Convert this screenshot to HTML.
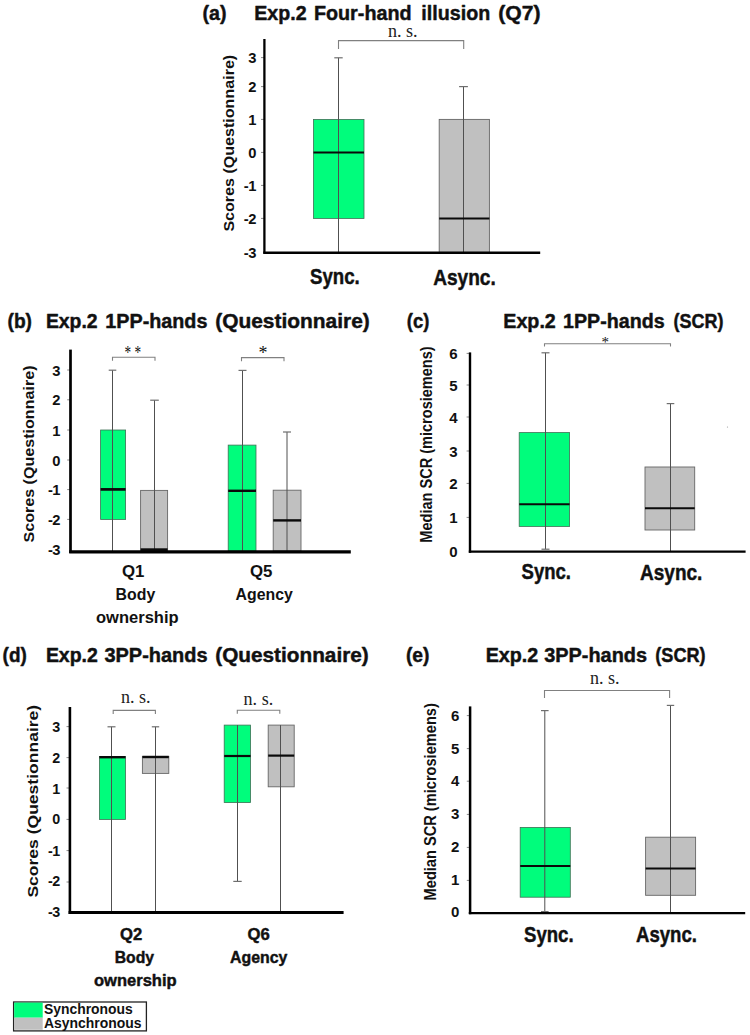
<!DOCTYPE html><html><head><meta charset="utf-8"><title>Figure</title>
<style>html,body{margin:0;padding:0;background:#fff}svg{display:block}</style></head><body>
<svg width="750" height="1035" viewBox="0 0 750 1035">
<rect width="750" height="1035" fill="#fff"/>
<text x="202.5" y="20.3" font-family='"Liberation Sans", sans-serif' font-size="20.5" font-weight="bold" fill="#111" text-anchor="start" textLength="24" lengthAdjust="spacingAndGlyphs" stroke="#111" stroke-width="0.45" stroke-linejoin="round">(a)</text>
<text x="254.3" y="20.3" font-family='"Liberation Sans", sans-serif' font-size="20.5" font-weight="bold" fill="#111" text-anchor="start" textLength="52.3" lengthAdjust="spacingAndGlyphs" stroke="#111" stroke-width="0.45" stroke-linejoin="round">Exp.2</text>
<text x="313.9" y="20.3" font-family='"Liberation Sans", sans-serif' font-size="20.5" font-weight="bold" fill="#111" text-anchor="start" textLength="97.7" lengthAdjust="spacingAndGlyphs" stroke="#111" stroke-width="0.45" stroke-linejoin="round">Four-hand</text>
<text x="421.3" y="20.3" font-family='"Liberation Sans", sans-serif' font-size="20.5" font-weight="bold" fill="#111" text-anchor="start" textLength="68.9" lengthAdjust="spacingAndGlyphs" stroke="#111" stroke-width="0.45" stroke-linejoin="round">illusion</text>
<text x="498.3" y="20.3" font-family='"Liberation Sans", sans-serif' font-size="20.5" font-weight="bold" fill="#111" text-anchor="start" textLength="42.3" lengthAdjust="spacingAndGlyphs" stroke="#111" stroke-width="0.45" stroke-linejoin="round">(Q7)</text>
<text x="234.3" y="231.6" font-family='"Liberation Sans", sans-serif' font-size="15.25" font-weight="bold" fill="#111" text-anchor="start" textLength="176.8" lengthAdjust="spacingAndGlyphs" transform="rotate(-90 234.3 231.6)">Scores (Questionnaire)</text>
<text transform="translate(256.4 63.12) scale(1.03 1)" font-family='"Liberation Sans", sans-serif' font-size="14.3" font-weight="bold" fill="#111" text-anchor="end">3</text>
<text transform="translate(256.4 92.12) scale(1.03 1)" font-family='"Liberation Sans", sans-serif' font-size="14.3" font-weight="bold" fill="#111" text-anchor="end">2</text>
<text transform="translate(256.4 124.92) scale(1.03 1)" font-family='"Liberation Sans", sans-serif' font-size="14.3" font-weight="bold" fill="#111" text-anchor="end">1</text>
<text transform="translate(256.4 157.92) scale(1.03 1)" font-family='"Liberation Sans", sans-serif' font-size="14.3" font-weight="bold" fill="#111" text-anchor="end">0</text>
<text transform="translate(256.4 190.92) scale(1.03 1)" font-family='"Liberation Sans", sans-serif' font-size="14.3" font-weight="bold" fill="#111" text-anchor="end">-<tspan dx="-0.5">1</tspan></text>
<text transform="translate(256.4 223.92) scale(1.03 1)" font-family='"Liberation Sans", sans-serif' font-size="14.3" font-weight="bold" fill="#111" text-anchor="end">-<tspan dx="-0.5">2</tspan></text>
<text transform="translate(256.4 257.82) scale(1.03 1)" font-family='"Liberation Sans", sans-serif' font-size="14.3" font-weight="bold" fill="#111" text-anchor="end">-<tspan dx="-0.5">3</tspan></text>
<rect x="313.5" y="119.4" width="50.5" height="99.0" fill="#00FD7C" stroke="#3f6f55" stroke-width="0.8"/>
<rect x="439.2" y="119.4" width="50.2" height="133.0" fill="#C0C0C0" stroke="#666666" stroke-width="0.9"/>
<line x1="338.5" y1="57.8" x2="338.5" y2="252.4" stroke="#505050" stroke-width="1" stroke-linecap="butt"/>
<line x1="334.3" y1="57.8" x2="342.7" y2="57.8" stroke="#6e6e6e" stroke-width="1.2" stroke-linecap="butt"/>
<line x1="463.5" y1="86.6" x2="463.5" y2="252.4" stroke="#505050" stroke-width="1" stroke-linecap="butt"/>
<line x1="459.1" y1="86.6" x2="467.9" y2="86.6" stroke="#6e6e6e" stroke-width="1.2" stroke-linecap="butt"/>
<line x1="313.5" y1="152.4" x2="364" y2="152.4" stroke="#0a0a0a" stroke-width="2" stroke-linecap="butt"/>
<line x1="439.2" y1="218.6" x2="489.4" y2="218.6" stroke="#0a0a0a" stroke-width="2" stroke-linecap="butt"/>
<polyline points="338.5,49 338.5,40.6 463.7,40.6 463.7,49" fill="none" stroke="#808080" stroke-width="1.1"/>
<text x="388" y="37" font-family='"Liberation Serif", serif' font-size="18" font-weight="normal" fill="#222" text-anchor="start" textLength="29.6" lengthAdjust="spacingAndGlyphs">n. s.</text>
<line x1="261.0" y1="57.6" x2="264.4" y2="57.6" stroke="#8a8a8a" stroke-width="1" stroke-linecap="butt"/>
<line x1="261.0" y1="86.6" x2="264.4" y2="86.6" stroke="#8a8a8a" stroke-width="1" stroke-linecap="butt"/>
<line x1="261.0" y1="119.4" x2="264.4" y2="119.4" stroke="#8a8a8a" stroke-width="1" stroke-linecap="butt"/>
<line x1="261.0" y1="152.4" x2="264.4" y2="152.4" stroke="#8a8a8a" stroke-width="1" stroke-linecap="butt"/>
<line x1="261.0" y1="185.4" x2="264.4" y2="185.4" stroke="#8a8a8a" stroke-width="1" stroke-linecap="butt"/>
<line x1="261.0" y1="218.4" x2="264.4" y2="218.4" stroke="#8a8a8a" stroke-width="1" stroke-linecap="butt"/>
<line x1="264.4" y1="39" x2="264.4" y2="253.6" stroke="#000" stroke-width="2.3" stroke-linecap="butt"/>
<line x1="263.3" y1="252.8" x2="540.2" y2="252.8" stroke="#000" stroke-width="2.6" stroke-linecap="butt"/>
<text x="310" y="284.3" font-family='"Liberation Sans", sans-serif' font-size="21.5" font-weight="bold" fill="#111" text-anchor="start" textLength="49.8" lengthAdjust="spacingAndGlyphs" stroke="#111" stroke-width="0.45" stroke-linejoin="round">Sync.</text>
<text x="433.2" y="284.6" font-family='"Liberation Sans", sans-serif' font-size="21.5" font-weight="bold" fill="#111" text-anchor="start" textLength="62.6" lengthAdjust="spacingAndGlyphs" stroke="#111" stroke-width="0.45" stroke-linejoin="round">Async.</text>
<text x="7.5" y="328" font-family='"Liberation Sans", sans-serif' font-size="20.5" font-weight="bold" fill="#111" text-anchor="start" textLength="24.5" lengthAdjust="spacingAndGlyphs" stroke="#111" stroke-width="0.45" stroke-linejoin="round">(b)</text>
<text x="45.9" y="328" font-family='"Liberation Sans", sans-serif' font-size="20.5" font-weight="bold" fill="#111" text-anchor="start" textLength="51.7" lengthAdjust="spacingAndGlyphs" stroke="#111" stroke-width="0.45" stroke-linejoin="round">Exp.2</text>
<text x="105.3" y="328" font-family='"Liberation Sans", sans-serif' font-size="20.5" font-weight="bold" fill="#111" text-anchor="start" textLength="102.1" lengthAdjust="spacingAndGlyphs" stroke="#111" stroke-width="0.45" stroke-linejoin="round">1PP-hands</text>
<text x="215.2" y="328" font-family='"Liberation Sans", sans-serif' font-size="20.5" font-weight="bold" fill="#111" text-anchor="start" textLength="154.6" lengthAdjust="spacingAndGlyphs" stroke="#111" stroke-width="0.45" stroke-linejoin="round">(Questionnaire)</text>
<text x="33.7" y="542.5" font-family='"Liberation Sans", sans-serif' font-size="15.25" font-weight="bold" fill="#111" text-anchor="start" textLength="177" lengthAdjust="spacingAndGlyphs" transform="rotate(-90 33.7 542.5)">Scores (Questionnaire)</text>
<text transform="translate(60.5 375.52) scale(1.03 1)" font-family='"Liberation Sans", sans-serif' font-size="14.3" font-weight="bold" fill="#111" text-anchor="end">3</text>
<text transform="translate(60.5 405.32) scale(1.03 1)" font-family='"Liberation Sans", sans-serif' font-size="14.3" font-weight="bold" fill="#111" text-anchor="end">2</text>
<text transform="translate(60.5 435.52) scale(1.03 1)" font-family='"Liberation Sans", sans-serif' font-size="14.3" font-weight="bold" fill="#111" text-anchor="end">1</text>
<text transform="translate(60.5 465.52) scale(1.03 1)" font-family='"Liberation Sans", sans-serif' font-size="14.3" font-weight="bold" fill="#111" text-anchor="end">0</text>
<text transform="translate(60.5 495.12) scale(1.03 1)" font-family='"Liberation Sans", sans-serif' font-size="14.3" font-weight="bold" fill="#111" text-anchor="end">-<tspan dx="-0.5">1</tspan></text>
<text transform="translate(60.5 524.92) scale(1.03 1)" font-family='"Liberation Sans", sans-serif' font-size="14.3" font-weight="bold" fill="#111" text-anchor="end">-<tspan dx="-0.5">2</tspan></text>
<text transform="translate(60.5 555.42) scale(1.03 1)" font-family='"Liberation Sans", sans-serif' font-size="14.3" font-weight="bold" fill="#111" text-anchor="end">-<tspan dx="-0.5">3</tspan></text>
<rect x="100.6" y="430" width="25.0" height="89.4" fill="#00FD7C" stroke="#3f6f55" stroke-width="0.8"/>
<rect x="140.6" y="490.4" width="27.0" height="60.6" fill="#C0C0C0" stroke="#666666" stroke-width="0.9"/>
<rect x="228.2" y="445.1" width="27.8" height="105.9" fill="#00FD7C" stroke="#3f6f55" stroke-width="0.8"/>
<rect x="273.2" y="490.2" width="27.8" height="60.8" fill="#C0C0C0" stroke="#666666" stroke-width="0.9"/>
<line x1="112.5" y1="370.2" x2="112.5" y2="551" stroke="#505050" stroke-width="1" stroke-linecap="butt"/>
<line x1="108.7" y1="370.2" x2="116.3" y2="370.2" stroke="#6e6e6e" stroke-width="1.2" stroke-linecap="butt"/>
<line x1="154.5" y1="400.2" x2="154.5" y2="551" stroke="#505050" stroke-width="1" stroke-linecap="butt"/>
<line x1="150.2" y1="400.2" x2="158.8" y2="400.2" stroke="#6e6e6e" stroke-width="1.2" stroke-linecap="butt"/>
<line x1="242.5" y1="370.4" x2="242.5" y2="551" stroke="#505050" stroke-width="1" stroke-linecap="butt"/>
<line x1="238.5" y1="370.4" x2="246.5" y2="370.4" stroke="#6e6e6e" stroke-width="1.2" stroke-linecap="butt"/>
<line x1="287" y1="432" x2="287" y2="551" stroke="#505050" stroke-width="1" stroke-linecap="butt"/>
<line x1="283.0" y1="432" x2="291.0" y2="432" stroke="#6e6e6e" stroke-width="1.2" stroke-linecap="butt"/>
<line x1="100.6" y1="489.4" x2="125.6" y2="489.4" stroke="#0a0a0a" stroke-width="2.7" stroke-linecap="butt"/>
<line x1="140.6" y1="549.6" x2="167.6" y2="549.6" stroke="#0a0a0a" stroke-width="2.6" stroke-linecap="butt"/>
<line x1="228.2" y1="490.8" x2="256" y2="490.8" stroke="#0a0a0a" stroke-width="2.4" stroke-linecap="butt"/>
<line x1="273.2" y1="520.4" x2="301" y2="520.4" stroke="#0a0a0a" stroke-width="2.4" stroke-linecap="butt"/>
<polyline points="112.5,360.8 112.5,357.3 155,357.3 155,360.8" fill="none" stroke="#808080" stroke-width="1.1"/>
<polyline points="241.5,361.2 241.5,357.6 284,357.6 284,361.2" fill="none" stroke="#808080" stroke-width="1.1"/>
<text x="124.6" y="359.1" font-family='"Liberation Serif", serif' font-size="18" font-weight="normal" fill="#111" text-anchor="start" textLength="16.6" lengthAdjust="spacingAndGlyphs">* *</text>
<text x="258.6" y="359.1" font-family='"Liberation Serif", serif' font-size="18" font-weight="normal" fill="#111" text-anchor="start">*</text>
<line x1="67.19999999999999" y1="370" x2="70.6" y2="370" stroke="#8a8a8a" stroke-width="1" stroke-linecap="butt"/>
<line x1="67.19999999999999" y1="399.8" x2="70.6" y2="399.8" stroke="#8a8a8a" stroke-width="1" stroke-linecap="butt"/>
<line x1="67.19999999999999" y1="430" x2="70.6" y2="430" stroke="#8a8a8a" stroke-width="1" stroke-linecap="butt"/>
<line x1="67.19999999999999" y1="460" x2="70.6" y2="460" stroke="#8a8a8a" stroke-width="1" stroke-linecap="butt"/>
<line x1="67.19999999999999" y1="489.6" x2="70.6" y2="489.6" stroke="#8a8a8a" stroke-width="1" stroke-linecap="butt"/>
<line x1="67.19999999999999" y1="519.4" x2="70.6" y2="519.4" stroke="#8a8a8a" stroke-width="1" stroke-linecap="butt"/>
<line x1="70.5" y1="349.6" x2="70.5" y2="553" stroke="#000" stroke-width="2.7" stroke-linecap="butt"/>
<line x1="69.2" y1="551.9" x2="350.8" y2="551.9" stroke="#000" stroke-width="3.3" stroke-linecap="butt"/>
<text x="122" y="576.9" font-family='"Liberation Sans", sans-serif' font-size="16" font-weight="bold" fill="#111" text-anchor="start" textLength="22.4" lengthAdjust="spacingAndGlyphs">Q1</text>
<text x="115.6" y="600" font-family='"Liberation Sans", sans-serif' font-size="16" font-weight="bold" fill="#111" text-anchor="start" textLength="39.6" lengthAdjust="spacingAndGlyphs">Body</text>
<text x="96" y="622.8" font-family='"Liberation Sans", sans-serif' font-size="16" font-weight="bold" fill="#111" text-anchor="start" textLength="82.6" lengthAdjust="spacingAndGlyphs">ownership</text>
<text x="250" y="576.8" font-family='"Liberation Sans", sans-serif' font-size="16" font-weight="bold" fill="#111" text-anchor="start" textLength="22.4" lengthAdjust="spacingAndGlyphs">Q5</text>
<text x="235.6" y="600" font-family='"Liberation Sans", sans-serif' font-size="16" font-weight="bold" fill="#111" text-anchor="start" textLength="57.2" lengthAdjust="spacingAndGlyphs">Agency</text>
<text x="406.8" y="327.6" font-family='"Liberation Sans", sans-serif' font-size="20.5" font-weight="bold" fill="#111" text-anchor="start" textLength="22.6" lengthAdjust="spacingAndGlyphs" stroke="#111" stroke-width="0.45" stroke-linejoin="round">(c)</text>
<text x="503.3" y="327.6" font-family='"Liberation Sans", sans-serif' font-size="20.5" font-weight="bold" fill="#111" text-anchor="start" textLength="52.5" lengthAdjust="spacingAndGlyphs" stroke="#111" stroke-width="0.45" stroke-linejoin="round">Exp.2</text>
<text x="563.1" y="327.6" font-family='"Liberation Sans", sans-serif' font-size="20.5" font-weight="bold" fill="#111" text-anchor="start" textLength="101.5" lengthAdjust="spacingAndGlyphs" stroke="#111" stroke-width="0.45" stroke-linejoin="round">1PP-hands</text>
<text x="673.5" y="327.6" font-family='"Liberation Sans", sans-serif' font-size="20.5" font-weight="bold" fill="#111" text-anchor="start" textLength="49.9" lengthAdjust="spacingAndGlyphs" stroke="#111" stroke-width="0.45" stroke-linejoin="round">(SCR)</text>
<text x="431.7" y="542.7" font-family='"Liberation Sans", sans-serif' font-size="16.6" font-weight="bold" fill="#111" text-anchor="start" textLength="196.4" lengthAdjust="spacingAndGlyphs" transform="rotate(-90 431.7 542.7)">Median SCR (microsiemens)</text>
<text transform="translate(457.5 359.02) scale(1.03 1)" font-family='"Liberation Sans", sans-serif' font-size="14.6" font-weight="bold" fill="#111" text-anchor="end">6</text>
<text transform="translate(457.5 390.62) scale(1.03 1)" font-family='"Liberation Sans", sans-serif' font-size="14.6" font-weight="bold" fill="#111" text-anchor="end">5</text>
<text transform="translate(457.5 422.62) scale(1.03 1)" font-family='"Liberation Sans", sans-serif' font-size="14.6" font-weight="bold" fill="#111" text-anchor="end">4</text>
<text transform="translate(457.5 456.62) scale(1.03 1)" font-family='"Liberation Sans", sans-serif' font-size="14.6" font-weight="bold" fill="#111" text-anchor="end">3</text>
<text transform="translate(457.5 489.02) scale(1.03 1)" font-family='"Liberation Sans", sans-serif' font-size="14.6" font-weight="bold" fill="#111" text-anchor="end">2</text>
<text transform="translate(457.5 523.02) scale(1.03 1)" font-family='"Liberation Sans", sans-serif' font-size="14.6" font-weight="bold" fill="#111" text-anchor="end">1</text>
<text transform="translate(457.5 556.52) scale(1.03 1)" font-family='"Liberation Sans", sans-serif' font-size="14.6" font-weight="bold" fill="#111" text-anchor="end">0</text>
<rect x="519.2" y="432.6" width="50.4" height="93.8" fill="#00FD7C" stroke="#3f6f55" stroke-width="0.8"/>
<rect x="645" y="467" width="49.7" height="63" fill="#C0C0C0" stroke="#666666" stroke-width="0.9"/>
<line x1="545.5" y1="352.8" x2="545.5" y2="549.2" stroke="#505050" stroke-width="1" stroke-linecap="butt"/>
<line x1="541.5" y1="352.8" x2="549.5" y2="352.8" stroke="#6e6e6e" stroke-width="1.2" stroke-linecap="butt"/>
<line x1="541.5" y1="549.2" x2="549.5" y2="549.2" stroke="#6e6e6e" stroke-width="1.2" stroke-linecap="butt"/>
<line x1="670.5" y1="403.6" x2="670.5" y2="551" stroke="#505050" stroke-width="1" stroke-linecap="butt"/>
<line x1="666.7" y1="403.6" x2="674.3" y2="403.6" stroke="#6e6e6e" stroke-width="1.2" stroke-linecap="butt"/>
<line x1="519.2" y1="504.2" x2="569.6" y2="504.2" stroke="#0a0a0a" stroke-width="2" stroke-linecap="butt"/>
<line x1="645" y1="508.2" x2="694.7" y2="508.2" stroke="#0a0a0a" stroke-width="2" stroke-linecap="butt"/>
<polyline points="544.5,346.4 544.5,343.7 670.5,343.7 670.5,346.4" fill="none" stroke="#808080" stroke-width="1.1"/>
<text x="601.5" y="347" font-family='"Liberation Serif", serif' font-size="15" font-weight="normal" fill="#111" text-anchor="start">*</text>
<line x1="466.6" y1="353.4" x2="470" y2="353.4" stroke="#8a8a8a" stroke-width="1" stroke-linecap="butt"/>
<line x1="466.6" y1="385" x2="470" y2="385" stroke="#8a8a8a" stroke-width="1" stroke-linecap="butt"/>
<line x1="466.6" y1="417" x2="470" y2="417" stroke="#8a8a8a" stroke-width="1" stroke-linecap="butt"/>
<line x1="466.6" y1="451" x2="470" y2="451" stroke="#8a8a8a" stroke-width="1" stroke-linecap="butt"/>
<line x1="466.6" y1="483.4" x2="470" y2="483.4" stroke="#8a8a8a" stroke-width="1" stroke-linecap="butt"/>
<line x1="466.6" y1="517.4" x2="470" y2="517.4" stroke="#8a8a8a" stroke-width="1" stroke-linecap="butt"/>
<line x1="470" y1="352.4" x2="470" y2="552.8" stroke="#000" stroke-width="2.4" stroke-linecap="butt"/>
<line x1="468.8" y1="551.6" x2="745.6" y2="551.6" stroke="#000" stroke-width="2.4" stroke-linecap="butt"/>
<text x="521.6" y="579.1" font-family='"Liberation Sans", sans-serif' font-size="21.5" font-weight="bold" fill="#111" text-anchor="start" textLength="49.4" lengthAdjust="spacingAndGlyphs" stroke="#111" stroke-width="0.45" stroke-linejoin="round">Sync.</text>
<text x="640" y="579.6" font-family='"Liberation Sans", sans-serif' font-size="21.5" font-weight="bold" fill="#111" text-anchor="start" textLength="62.4" lengthAdjust="spacingAndGlyphs" stroke="#111" stroke-width="0.45" stroke-linejoin="round">Async.</text>
<circle cx="727.5" cy="427" r="0.6" fill="#999"/>
<text x="2.6" y="661.8" font-family='"Liberation Sans", sans-serif' font-size="20.5" font-weight="bold" fill="#111" text-anchor="start" textLength="24.2" lengthAdjust="spacingAndGlyphs" stroke="#111" stroke-width="0.45" stroke-linejoin="round">(d)</text>
<text x="45.9" y="661.8" font-family='"Liberation Sans", sans-serif' font-size="20.5" font-weight="bold" fill="#111" text-anchor="start" textLength="51.9" lengthAdjust="spacingAndGlyphs" stroke="#111" stroke-width="0.45" stroke-linejoin="round">Exp.2</text>
<text x="104.4" y="661.8" font-family='"Liberation Sans", sans-serif' font-size="20.5" font-weight="bold" fill="#111" text-anchor="start" textLength="103.2" lengthAdjust="spacingAndGlyphs" stroke="#111" stroke-width="0.45" stroke-linejoin="round">3PP-hands</text>
<text x="215.3" y="661.8" font-family='"Liberation Sans", sans-serif' font-size="20.5" font-weight="bold" fill="#111" text-anchor="start" textLength="153.4" lengthAdjust="spacingAndGlyphs" stroke="#111" stroke-width="0.45" stroke-linejoin="round">(Questionnaire)</text>
<text x="38.2" y="897.6" font-family='"Liberation Sans", sans-serif' font-size="15.2" font-weight="bold" fill="#111" text-anchor="start" textLength="192.8" lengthAdjust="spacingAndGlyphs" transform="rotate(-90 38.2 897.6)">Scores (Questionnaire)</text>
<text transform="translate(60.1 732.12) scale(1.0 1)" font-family='"Liberation Sans", sans-serif' font-size="14.3" font-weight="bold" fill="#111" text-anchor="end">3</text>
<text transform="translate(60.1 763.12) scale(1.0 1)" font-family='"Liberation Sans", sans-serif' font-size="14.3" font-weight="bold" fill="#111" text-anchor="end">2</text>
<text transform="translate(60.1 793.52) scale(1.0 1)" font-family='"Liberation Sans", sans-serif' font-size="14.3" font-weight="bold" fill="#111" text-anchor="end">1</text>
<text transform="translate(60.1 824.22) scale(1.0 1)" font-family='"Liberation Sans", sans-serif' font-size="14.3" font-weight="bold" fill="#111" text-anchor="end">0</text>
<text transform="translate(60.1 856.12) scale(1.0 1)" font-family='"Liberation Sans", sans-serif' font-size="14.3" font-weight="bold" fill="#111" text-anchor="end">-<tspan dx="-0.5">1</tspan></text>
<text transform="translate(60.1 886.32) scale(1.0 1)" font-family='"Liberation Sans", sans-serif' font-size="14.3" font-weight="bold" fill="#111" text-anchor="end">-<tspan dx="-0.5">2</tspan></text>
<text transform="translate(60.1 917.02) scale(1.0 1)" font-family='"Liberation Sans", sans-serif' font-size="14.3" font-weight="bold" fill="#111" text-anchor="end">-<tspan dx="-0.5">3</tspan></text>
<rect x="99.4" y="756.4" width="26.1" height="63.0" fill="#00FD7C" stroke="#3f6f55" stroke-width="0.8"/>
<rect x="142.4" y="756.4" width="26.4" height="17.0" fill="#C0C0C0" stroke="#666666" stroke-width="0.9"/>
<rect x="224.2" y="725.1" width="26.4" height="77.5" fill="#00FD7C" stroke="#3f6f55" stroke-width="0.8"/>
<rect x="268.2" y="725.1" width="26.0" height="61.7" fill="#C0C0C0" stroke="#666666" stroke-width="0.9"/>
<line x1="111.5" y1="726.8" x2="111.5" y2="912" stroke="#505050" stroke-width="1" stroke-linecap="butt"/>
<line x1="107.5" y1="726.8" x2="115.5" y2="726.8" stroke="#6e6e6e" stroke-width="1.2" stroke-linecap="butt"/>
<line x1="155.5" y1="726.8" x2="155.5" y2="912" stroke="#505050" stroke-width="1" stroke-linecap="butt"/>
<line x1="151.8" y1="726.8" x2="159.2" y2="726.8" stroke="#6e6e6e" stroke-width="1.2" stroke-linecap="butt"/>
<line x1="237.5" y1="725.1" x2="237.5" y2="881.4" stroke="#505050" stroke-width="1" stroke-linecap="butt"/>
<line x1="233.3" y1="881.4" x2="241.7" y2="881.4" stroke="#6e6e6e" stroke-width="1.2" stroke-linecap="butt"/>
<line x1="280.5" y1="725.1" x2="280.5" y2="912" stroke="#505050" stroke-width="1" stroke-linecap="butt"/>
<line x1="99.4" y1="757.2" x2="125.5" y2="757.2" stroke="#0a0a0a" stroke-width="2.4" stroke-linecap="butt"/>
<line x1="142.4" y1="757" x2="168.8" y2="757" stroke="#0a0a0a" stroke-width="2.4" stroke-linecap="butt"/>
<line x1="224.2" y1="756" x2="250.6" y2="756" stroke="#0a0a0a" stroke-width="2.2" stroke-linecap="butt"/>
<line x1="268.2" y1="755.6" x2="294.2" y2="755.6" stroke="#0a0a0a" stroke-width="2.2" stroke-linecap="butt"/>
<polyline points="113.2,714 113.2,710.4 155.4,710.4 155.4,714" fill="none" stroke="#808080" stroke-width="1.1"/>
<polyline points="237.3,713.8 237.3,710.2 279.8,710.2 279.8,713.8" fill="none" stroke="#808080" stroke-width="1.1"/>
<text x="121" y="703" font-family='"Liberation Serif", serif' font-size="18" font-weight="normal" fill="#222" text-anchor="start" textLength="29.6" lengthAdjust="spacingAndGlyphs">n. s.</text>
<text x="243.6" y="705" font-family='"Liberation Serif", serif' font-size="18" font-weight="normal" fill="#222" text-anchor="start" textLength="29.6" lengthAdjust="spacingAndGlyphs">n. s.</text>
<line x1="66.5" y1="726.6" x2="69.9" y2="726.6" stroke="#8a8a8a" stroke-width="1" stroke-linecap="butt"/>
<line x1="66.5" y1="757.6" x2="69.9" y2="757.6" stroke="#8a8a8a" stroke-width="1" stroke-linecap="butt"/>
<line x1="66.5" y1="788" x2="69.9" y2="788" stroke="#8a8a8a" stroke-width="1" stroke-linecap="butt"/>
<line x1="66.5" y1="819.4" x2="69.9" y2="819.4" stroke="#8a8a8a" stroke-width="1" stroke-linecap="butt"/>
<line x1="66.5" y1="850.6" x2="69.9" y2="850.6" stroke="#8a8a8a" stroke-width="1" stroke-linecap="butt"/>
<line x1="66.5" y1="882" x2="69.9" y2="882" stroke="#8a8a8a" stroke-width="1" stroke-linecap="butt"/>
<line x1="69.9" y1="707" x2="69.9" y2="914" stroke="#000" stroke-width="2.6" stroke-linecap="butt"/>
<line x1="68.6" y1="912.5" x2="343.6" y2="912.5" stroke="#000" stroke-width="3.0" stroke-linecap="butt"/>
<text x="120" y="940.2" font-family='"Liberation Sans", sans-serif' font-size="17" font-weight="bold" fill="#111" text-anchor="start" textLength="22.2" lengthAdjust="spacingAndGlyphs" stroke="#111" stroke-width="0.45" stroke-linejoin="round">Q2</text>
<text x="114.7" y="963.2" font-family='"Liberation Sans", sans-serif' font-size="17" font-weight="bold" fill="#111" text-anchor="start" textLength="39.4" lengthAdjust="spacingAndGlyphs" stroke="#111" stroke-width="0.45" stroke-linejoin="round">Body</text>
<text x="93.9" y="985.6" font-family='"Liberation Sans", sans-serif' font-size="17" font-weight="bold" fill="#111" text-anchor="start" textLength="82.8" lengthAdjust="spacingAndGlyphs" stroke="#111" stroke-width="0.45" stroke-linejoin="round">ownership</text>
<text x="247.6" y="940.2" font-family='"Liberation Sans", sans-serif' font-size="17" font-weight="bold" fill="#111" text-anchor="start" textLength="22.2" lengthAdjust="spacingAndGlyphs" stroke="#111" stroke-width="0.45" stroke-linejoin="round">Q6</text>
<text x="230" y="963.2" font-family='"Liberation Sans", sans-serif' font-size="17" font-weight="bold" fill="#111" text-anchor="start" textLength="57.4" lengthAdjust="spacingAndGlyphs" stroke="#111" stroke-width="0.45" stroke-linejoin="round">Agency</text>
<text x="405.9" y="661.8" font-family='"Liberation Sans", sans-serif' font-size="20.5" font-weight="bold" fill="#111" text-anchor="start" textLength="23.6" lengthAdjust="spacingAndGlyphs" stroke="#111" stroke-width="0.45" stroke-linejoin="round">(e)</text>
<text x="485.7" y="661.8" font-family='"Liberation Sans", sans-serif' font-size="20.5" font-weight="bold" fill="#111" text-anchor="start" textLength="52.5" lengthAdjust="spacingAndGlyphs" stroke="#111" stroke-width="0.45" stroke-linejoin="round">Exp.2</text>
<text x="544.3" y="661.8" font-family='"Liberation Sans", sans-serif' font-size="20.5" font-weight="bold" fill="#111" text-anchor="start" textLength="102.7" lengthAdjust="spacingAndGlyphs" stroke="#111" stroke-width="0.45" stroke-linejoin="round">3PP-hands</text>
<text x="655.3" y="661.8" font-family='"Liberation Sans", sans-serif' font-size="20.5" font-weight="bold" fill="#111" text-anchor="start" textLength="50.3" lengthAdjust="spacingAndGlyphs" stroke="#111" stroke-width="0.45" stroke-linejoin="round">(SCR)</text>
<text x="436" y="900.4" font-family='"Liberation Sans", sans-serif' font-size="16.8" font-weight="bold" fill="#111" text-anchor="start" textLength="197.2" lengthAdjust="spacingAndGlyphs" transform="rotate(-90 436 900.4)">Median SCR (microsiemens)</text>
<text transform="translate(459.3 720.52) scale(1.03 1)" font-family='"Liberation Sans", sans-serif' font-size="14.6" font-weight="bold" fill="#111" text-anchor="end">6</text>
<text transform="translate(459.3 753.52) scale(1.03 1)" font-family='"Liberation Sans", sans-serif' font-size="14.6" font-weight="bold" fill="#111" text-anchor="end">5</text>
<text transform="translate(459.3 786.12) scale(1.03 1)" font-family='"Liberation Sans", sans-serif' font-size="14.6" font-weight="bold" fill="#111" text-anchor="end">4</text>
<text transform="translate(459.3 819.32) scale(1.03 1)" font-family='"Liberation Sans", sans-serif' font-size="14.6" font-weight="bold" fill="#111" text-anchor="end">3</text>
<text transform="translate(459.3 852.32) scale(1.03 1)" font-family='"Liberation Sans", sans-serif' font-size="14.6" font-weight="bold" fill="#111" text-anchor="end">2</text>
<text transform="translate(459.3 885.32) scale(1.03 1)" font-family='"Liberation Sans", sans-serif' font-size="14.6" font-weight="bold" fill="#111" text-anchor="end">1</text>
<text transform="translate(459.3 917.22) scale(1.03 1)" font-family='"Liberation Sans", sans-serif' font-size="14.6" font-weight="bold" fill="#111" text-anchor="end">0</text>
<rect x="520.2" y="827.4" width="50.1" height="69.8" fill="#00FD7C" stroke="#3f6f55" stroke-width="0.8"/>
<rect x="645.6" y="837.2" width="50.0" height="58.1" fill="#C0C0C0" stroke="#666666" stroke-width="0.9"/>
<line x1="544.8" y1="710.6" x2="544.8" y2="911.6" stroke="#505050" stroke-width="1" stroke-linecap="butt"/>
<line x1="541.0" y1="710.6" x2="548.5999999999999" y2="710.6" stroke="#6e6e6e" stroke-width="1.2" stroke-linecap="butt"/>
<line x1="541.0" y1="911.6" x2="548.5999999999999" y2="911.6" stroke="#6e6e6e" stroke-width="1.2" stroke-linecap="butt"/>
<line x1="670.5" y1="705.4" x2="670.5" y2="913" stroke="#505050" stroke-width="1" stroke-linecap="butt"/>
<line x1="666.8" y1="705.4" x2="674.2" y2="705.4" stroke="#6e6e6e" stroke-width="1.2" stroke-linecap="butt"/>
<line x1="520.2" y1="866" x2="570.3" y2="866" stroke="#0a0a0a" stroke-width="2" stroke-linecap="butt"/>
<line x1="645.6" y1="868.6" x2="695.6" y2="868.6" stroke="#0a0a0a" stroke-width="2" stroke-linecap="butt"/>
<polyline points="544.5,698 544.5,690.5 669.6,690.5 669.6,698" fill="none" stroke="#808080" stroke-width="1.1"/>
<text x="590" y="684" font-family='"Liberation Serif", serif' font-size="18" font-weight="normal" fill="#222" text-anchor="start" textLength="29.6" lengthAdjust="spacingAndGlyphs">n. s.</text>
<line x1="466.8" y1="715.6" x2="470.2" y2="715.6" stroke="#8a8a8a" stroke-width="1" stroke-linecap="butt"/>
<line x1="466.8" y1="748.6" x2="470.2" y2="748.6" stroke="#8a8a8a" stroke-width="1" stroke-linecap="butt"/>
<line x1="466.8" y1="781.2" x2="470.2" y2="781.2" stroke="#8a8a8a" stroke-width="1" stroke-linecap="butt"/>
<line x1="466.8" y1="814.4" x2="470.2" y2="814.4" stroke="#8a8a8a" stroke-width="1" stroke-linecap="butt"/>
<line x1="466.8" y1="847.4" x2="470.2" y2="847.4" stroke="#8a8a8a" stroke-width="1" stroke-linecap="butt"/>
<line x1="466.8" y1="880.4" x2="470.2" y2="880.4" stroke="#8a8a8a" stroke-width="1" stroke-linecap="butt"/>
<line x1="470.1" y1="706.4" x2="470.1" y2="914.2" stroke="#000" stroke-width="2.5" stroke-linecap="butt"/>
<line x1="468.8" y1="913.1" x2="745.2" y2="913.1" stroke="#000" stroke-width="2.3" stroke-linecap="butt"/>
<text x="524" y="942.3" font-family='"Liberation Sans", sans-serif' font-size="21.5" font-weight="bold" fill="#111" text-anchor="start" textLength="49.6" lengthAdjust="spacingAndGlyphs" stroke="#111" stroke-width="0.45" stroke-linejoin="round">Sync.</text>
<text x="636" y="942.3" font-family='"Liberation Sans", sans-serif' font-size="21.5" font-weight="bold" fill="#111" text-anchor="start" textLength="61" lengthAdjust="spacingAndGlyphs" stroke="#111" stroke-width="0.45" stroke-linejoin="round">Async.</text>
<rect x="13.6" y="1002" width="132.8" height="28.9" fill="#fff" stroke="#222" stroke-width="1.3"/>
<rect x="14.2" y="1002.6" width="28.5" height="15.1" fill="#00FD7C"/>
<rect x="14.2" y="1017.7" width="28.5" height="12.1" fill="#C0C0C0"/>
<text x="44" y="1013.8" font-family='"Liberation Sans", sans-serif' font-size="14.8" font-weight="bold" fill="#111" text-anchor="start" textLength="88.8" lengthAdjust="spacingAndGlyphs">Synchronous</text>
<text x="44" y="1028.2" font-family='"Liberation Sans", sans-serif' font-size="14.8" font-weight="bold" fill="#111" text-anchor="start" textLength="97.6" lengthAdjust="spacingAndGlyphs">Asynchronous</text>
</svg></body></html>
